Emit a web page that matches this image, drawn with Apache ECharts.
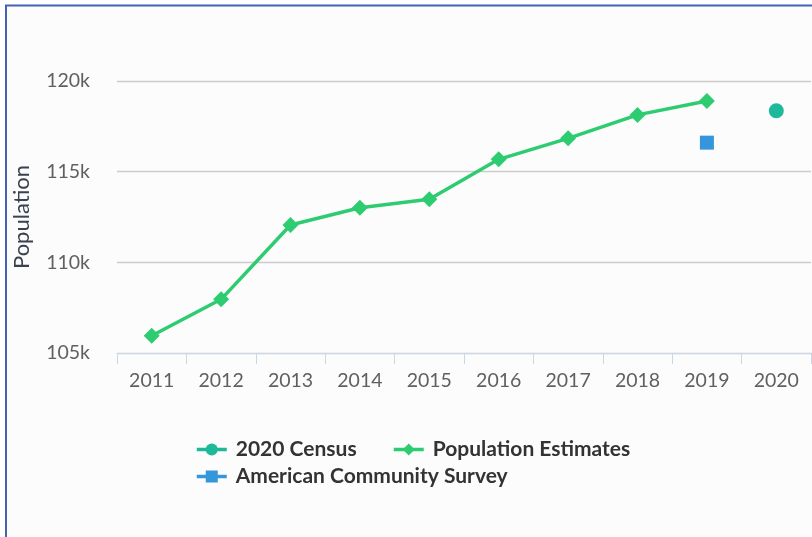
<!DOCTYPE html>
<html>
<head>
<meta charset="utf-8">
<title>Population</title>
<script src="https://cdn.jsdelivr.net/npm/echarts@6/dist/echarts.min.js"></script>
<style>
  html, body { margin: 0; padding: 0; background: #ffffff; }
  #chart { width: 812px; height: 537px; }
</style>
</head>
<body>
<div id="chart"></div>
<script>
// Years on the category axis
const years = ['2011', '2012', '2013', '2014', '2015', '2016', '2017', '2018', '2019', '2020'];

// Annual population estimates (no estimate for 2020)
const populationEstimates = [105950, 107960, 112060, 113010, 113480, 115680, 116840, 118130, 118900, null];

// Decennial census count
const census2020 = [null, null, null, null, null, null, null, null, null, 118360];

// American Community Survey figure
const acsValues = [null, null, null, null, null, null, null, null, 116600, null];

// Value axis range and step
const yMin = 105000;
const yMax = 120000;
const yStep = 5000;

const labelFont = 'Lato, "Open Sans", sans-serif';

const chart = echarts.init(document.getElementById('chart'), null, { renderer: 'canvas' });

function legendBlock(name, left, top) {
  return {
    data: [name],
    left: left,
    top: top,
    orient: 'horizontal',
    padding: 0,
    itemWidth: 30,
    itemHeight: 15,
    selectedMode: false,
    lineStyle: { width: 3.5 },
    textStyle: {
      fontFamily: labelFont,
      fontSize: 21,
      fontWeight: 'bold',
      color: '#333333',
      padding: [0, 0, 0, 4]
    }
  };
}

chart.setOption({
  backgroundColor: '#ffffff',
  animation: false,
  graphic: [
    {
      type: 'rect',
      shape: { x: 6, y: 5, width: 806, height: 532 },
      style: { fill: '#fcfcfc' },
      silent: true,
      z: -10
    },
    {
      type: 'line',
      shape: { x1: 5, y1: 5.5, x2: 812, y2: 5.5 },
      style: { stroke: '#4264b3', lineWidth: 2 },
      silent: true
    },
    {
      type: 'line',
      shape: { x1: 6, y1: 5, x2: 6, y2: 537 },
      style: { stroke: '#4264b3', lineWidth: 2 },
      silent: true
    }
  ],
  grid: {
    left: 117,
    right: 1,
    top: 81,
    bottom: 184,
    containLabel: false
  },
  legend: [
    legendBlock('2020 Census', 195, 439),
    legendBlock('Population Estimates', 392, 439),
    legendBlock('American Community Survey', 195, 466)
  ],
  xAxis: {
    type: 'category',
    data: years,
    boundaryGap: true,
    axisLine: { show: true, lineStyle: { color: '#ccd6eb', width: 1 } },
    axisTick: { show: true, length: 11, lineStyle: { color: '#ccd6eb', width: 1 } },
    axisLabel: {
      margin: 18,
      fontFamily: labelFont,
      fontSize: 19.5,
      color: '#606060'
    },
    splitLine: { show: false }
  },
  yAxis: {
    type: 'value',
    min: yMin,
    max: yMax,
    interval: yStep,
    name: 'Population',
    nameLocation: 'middle',
    nameGap: 84,
    nameTextStyle: {
      fontFamily: labelFont,
      fontSize: 22,
      color: '#3a4250'
    },
    axisLine: { show: false },
    axisTick: { show: false },
    axisLabel: {
      margin: 27,
      fontFamily: labelFont,
      fontSize: 19.5,
      color: '#606060',
      formatter: function (v) { return (v / 1000) + 'k'; }
    },
    splitLine: { show: true, lineStyle: { color: '#cccccc', width: 1.3 } }
  },
  series: [
    {
      name: '2020 Census',
      type: 'line',
      data: census2020,
      symbol: 'circle',
      symbolSize: 15,
      itemStyle: { color: '#1eb89a' },
      lineStyle: { width: 3.5, color: '#1eb89a' },
      z: 3
    },
    {
      name: 'Population Estimates',
      type: 'line',
      data: populationEstimates,
      symbol: 'diamond',
      symbolSize: 16,
      connectNulls: false,
      itemStyle: { color: '#2ecc71' },
      lineStyle: { width: 3.5, color: '#2ecc71' },
      z: 2
    },
    {
      name: 'American Community Survey',
      type: 'line',
      data: acsValues,
      symbol: 'rect',
      symbolSize: 14,
      itemStyle: { color: '#3596dc' },
      lineStyle: { width: 3.5, color: '#3596dc' },
      z: 3
    }
  ]
});
</script>
</body>
</html>
